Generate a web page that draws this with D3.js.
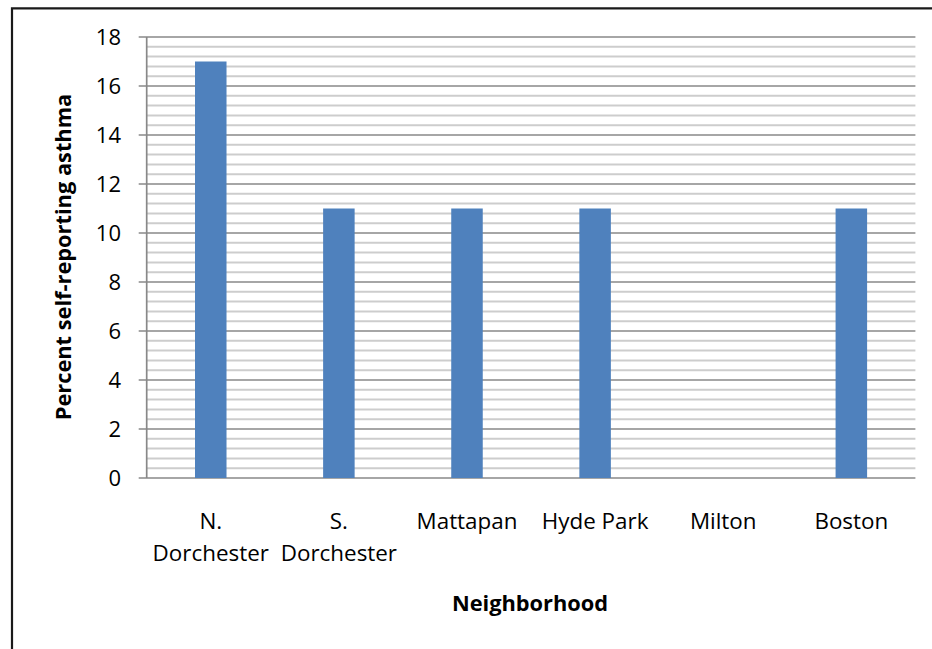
<!DOCTYPE html>
<html>
<head>
<meta charset="utf-8">
<script src="https://cdn.jsdelivr.net/npm/d3@7"></script>
<style>
  html, body { margin: 0; padding: 0; background: #fff; }
  svg { display: block; }
  text { font-family: "Open Sans", "Noto Sans", sans-serif; fill: #000; }
</style>
</head>
<body>
<svg id="chart" width="932" height="649"></svg>
<script>
const categories = [["N.", "Dorchester"], ["S.", "Dorchester"], ["Mattapan"], ["Hyde Park"], ["Milton"], ["Boston"]];
const values = [17, 11, 11, 11, 0, 11];
const yTicks = [0, 2, 4, 6, 8, 10, 12, 14, 16, 18];
const yTitle = "Percent self-reporting asthma";
const xTitle = "Neighborhood";

const svg = d3.select("#chart");
const plot = { left: 146.7, right: 915.4, top: 37, bottom: 478 };

const x = d3.scaleBand().domain(d3.range(categories.length)).range([plot.left, plot.right]).padding(0);
const y = d3.scaleLinear().domain([0, 18]).range([plot.bottom, plot.top]);

// frame (left + top border)
svg.append("path")
  .attr("d", `M12,649 L12,8.3 L932,8.3`)
  .attr("fill", "none").attr("stroke", "#1a1a1a").attr("stroke-width", 2.2);

// minor gridlines
const minor = d3.range(0, 18.001, 0.4).filter(v => Math.abs(v / 2 - Math.round(v / 2)) > 1e-6);
svg.append("g").selectAll("line").data(minor).join("line")
  .attr("x1", plot.left).attr("x2", plot.right)
  .attr("y1", d => y(d)).attr("y2", d => y(d))
  .attr("stroke", "#cdcdcd").attr("stroke-width", 2);

// major gridlines
svg.append("g").selectAll("line").data(yTicks).join("line")
  .attr("x1", plot.left - 8).attr("x2", plot.right)
  .attr("y1", d => y(d)).attr("y2", d => y(d))
  .attr("stroke", "#888").attr("stroke-width", 1.7);

// y axis line
svg.append("line")
  .attr("x1", plot.left).attr("x2", plot.left)
  .attr("y1", plot.top).attr("y2", plot.bottom)
  .attr("stroke", "#888").attr("stroke-width", 1.7);

// y tick labels
svg.append("g").selectAll("text").data(yTicks).join("text")
  .attr("x", 121).attr("y", d => y(d))
  .attr("dy", "0.36em")
  .attr("text-anchor", "end")
  .style("font-size", "22px")
  .text(d => d);

// bars
const bw = x.bandwidth() * 0.246;
svg.append("g").selectAll("rect").data(values).join("rect")
  .attr("x", (d, i) => x(i) + x.bandwidth() / 2 - bw / 2)
  .attr("width", bw)
  .attr("y", d => y(d))
  .attr("height", d => y(0) - y(d))
  .attr("fill", "#4f81bd");

// category labels
const cl = svg.append("g").selectAll("text").data(categories).join("text")
  .attr("x", (d, i) => x(i) + x.bandwidth() / 2)
  .attr("y", 528.5)
  .attr("text-anchor", "middle")
  .style("font-size", "22.4px");
cl.selectAll("tspan").data(d => d).join("tspan")
  .attr("x", function () { return d3.select(this.parentNode).attr("x"); })
  .attr("dy", (d, i) => i === 0 ? 0 : 32)
  .text(d => d);

// axis titles
svg.append("text")
  .attr("transform", `translate(71,257) rotate(-90)`)
  .attr("text-anchor", "middle")
  .style("font-size", "21.8px").style("font-weight", "bold")
  .text(yTitle);

svg.append("text")
  .attr("x", 530).attr("y", 611)
  .attr("text-anchor", "middle")
  .style("font-size", "21.8px").style("font-weight", "bold")
  .text(xTitle);
</script>
</body>
</html>
